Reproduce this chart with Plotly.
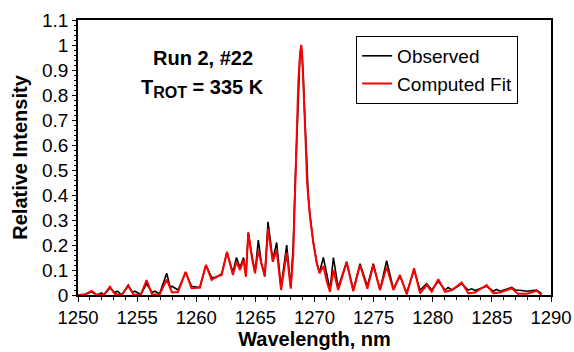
import plotly.graph_objects as go

# Observed spectrum (wavelength nm, relative intensity)
obs_wl = [1250.0, 1250.6, 1251.16, 1251.6, 1252.0, 1252.2, 1252.7, 1253.1, 1253.35, 1253.7,
          1254.25, 1254.6, 1254.8, 1255.3, 1255.8, 1256.26, 1256.5, 1256.9, 1257.5, 1257.8,
          1257.95, 1258.46, 1259.1, 1259.6, 1260.3, 1260.82, 1261.3, 1261.7, 1262.15, 1262.6,
          1263.1, 1263.4, 1263.7, 1264.0, 1264.2, 1264.4, 1264.7, 1264.97, 1265.25, 1265.5,
          1265.8, 1266.07, 1266.47, 1266.8, 1267.17, 1267.65, 1267.99, 1268.2, 1268.35, 1268.5,
          1268.63, 1268.77, 1268.88, 1268.97, 1269.05, 1269.14, 1269.26, 1269.37, 1269.48, 1269.62,
          1269.9, 1270.19, 1270.42, 1270.75, 1271.06, 1271.31, 1271.6, 1272.0, 1272.72, 1273.28,
          1273.85, 1274.47, 1274.97, 1275.54, 1276.1, 1276.67, 1277.23, 1277.8, 1278.42, 1278.92,
          1279.49, 1279.91, 1280.47, 1281.04, 1281.3, 1281.63, 1282.45, 1283.0, 1283.3, 1283.57,
          1284.56, 1285.12, 1285.4, 1285.69, 1286.68, 1287.0, 1287.5, 1287.97, 1288.79, 1289.2]
obs_int = [0.0, 0.003, 0.012, 0.0, 0.008, 0.0, 0.028, 0.01, 0.015, 0.0,
           0.04, 0.01, 0.015, 0.002, 0.045, 0.01, 0.015, 0.005, 0.087, 0.03,
           0.035, 0.02, 0.09, 0.035, 0.03, 0.12, 0.07, 0.07, 0.085, 0.17,
           0.09, 0.15, 0.11, 0.15, 0.08, 0.25, 0.16, 0.09, 0.22, 0.13,
           0.08, 0.293, 0.14, 0.21, 0.03, 0.2, 0.03, 0.2, 0.43, 0.62,
           0.85, 0.96, 1.0, 0.95, 0.88, 0.76, 0.6, 0.46, 0.39, 0.32,
           0.21, 0.13, 0.09, 0.15, 0.07, 0.02, 0.15, 0.03, 0.133, 0.02,
           0.125, 0.035, 0.125, 0.02, 0.137, 0.025, 0.075, 0.01, 0.1, 0.02,
           0.045, 0.02, 0.055, 0.02, 0.03, 0.02, 0.045, 0.02, 0.025, 0.018,
           0.035, 0.015, 0.022, 0.015, 0.03, 0.02, 0.018, 0.015, 0.02, 0.005]

# Computed fit
fit_wl = [1250.0, 1250.59, 1251.16, 1251.6, 1252.2, 1252.7, 1253.1, 1253.7, 1254.25, 1254.7,
          1255.3, 1255.8, 1256.26, 1256.9, 1257.5, 1257.95, 1258.46, 1259.1, 1259.6, 1260.3,
          1260.82, 1261.3, 1261.7, 1262.15, 1262.6, 1263.1, 1263.4, 1263.7, 1264.0, 1264.2,
          1264.4, 1264.7, 1264.97, 1265.25, 1265.5, 1265.8, 1266.07, 1266.47, 1266.8, 1267.17,
          1267.65, 1267.99, 1268.2, 1268.35, 1268.5, 1268.63, 1268.77, 1268.88, 1268.97, 1269.05,
          1269.14, 1269.26, 1269.37, 1269.48, 1269.62, 1269.9, 1270.19, 1270.42, 1270.75, 1271.06,
          1271.31, 1271.6, 1272.0, 1272.72, 1273.28, 1273.85, 1274.47, 1274.97, 1275.54, 1276.1,
          1276.67, 1277.23, 1277.8, 1278.42, 1278.92, 1279.49, 1279.91, 1280.47, 1281.04, 1281.63,
          1282.45, 1283.0, 1283.57, 1284.56, 1285.12, 1285.69, 1286.68, 1287.2, 1287.97, 1288.79,
          1289.2]
fit_int = [0.0, 0.002, 0.016, 0.0, 0.002, 0.033, 0.005, 0.0, 0.036, 0.002,
           0.0, 0.06, 0.003, 0.002, 0.062, 0.01, 0.012, 0.093, 0.027, 0.03,
           0.12, 0.06, 0.073, 0.08, 0.173, 0.08, 0.133, 0.1, 0.14, 0.073,
           0.25, 0.15, 0.087, 0.18, 0.127, 0.073, 0.265, 0.133, 0.18, 0.02,
           0.17, 0.025, 0.16, 0.42, 0.62, 0.85, 0.96, 1.0, 0.95, 0.87,
           0.75, 0.6, 0.45, 0.38, 0.31, 0.21, 0.127, 0.087, 0.115, 0.05,
           0.013, 0.1, 0.02, 0.13, 0.015, 0.12, 0.025, 0.12, 0.02, 0.113,
           0.02, 0.08, 0.002, 0.107, 0.007, 0.04, 0.013, 0.063, 0.013, 0.02,
           0.05, 0.007, 0.01, 0.04, 0.007, 0.01, 0.027, 0.005, 0.005, 0.017,
           0.0]

x_ticks = [1250, 1255, 1260, 1265, 1270, 1275, 1280, 1285, 1290]
y_ticks = [0, 0.1, 0.2, 0.3, 0.4, 0.5, 0.6, 0.7, 0.8, 0.9, 1.0, 1.1]
y_tick_text = ["0", "0.1", "0.2", "0.3", "0.4", "0.5", "0.6", "0.7", "0.8", "0.9", "1", "1.1"]

FONT = "Liberation Sans, Arial, sans-serif"

fig = go.Figure()
fig.add_trace(go.Scatter(x=obs_wl, y=obs_int, mode="lines", name="Observed",
                         line=dict(color="black", width=1.6)))
fig.add_trace(go.Scatter(x=fit_wl, y=fit_int, mode="lines", name="Computed Fit",
                         line=dict(color="#ff0000", width=2)))

fig.update_layout(
    width=574, height=352,
    margin=dict(l=78, r=23, t=20, b=57, autoexpand=False),
    paper_bgcolor="white", plot_bgcolor="white",
    font=dict(family=FONT, size=19, color="black"),
    showlegend=True,
    legend=dict(x=0.588, y=0.942, xanchor="left", yanchor="top",
                bordercolor="black", borderwidth=1, bgcolor="white",
                font=dict(size=19), itemwidth=30, tracegroupgap=0),
    xaxis=dict(range=[1250, 1290], tickvals=x_ticks, ticks="outside", ticklen=5,
               tickcolor="black", showline=True, linecolor="black", linewidth=1.5,
               mirror=True, showgrid=False, zeroline=False, automargin=False,
               tickfont=dict(size=18.5),
               minor=dict(dtick=1, ticks="outside", ticklen=3, tickcolor="black"),
               title=dict(text="<b>Wavelength, nm</b>", font=dict(size=20), standoff=4)),
    yaxis=dict(range=[0, 1.1], tickvals=y_ticks, ticktext=y_tick_text, ticks="outside",
               ticklen=4, tickcolor="black", showline=True, linecolor="black",
               linewidth=1.5, mirror=True, showgrid=False, zeroline=False, automargin=False,
               ticklabelstandoff=0,
               minor=dict(dtick=0.02, ticks="outside", ticklen=2, tickcolor="black"),
               title=dict(text="<b>Relative Intensity</b>", font=dict(size=20), standoff=9)),
)

fig.add_annotation(x=0.264, y=0.862, xref="paper", yref="paper", showarrow=False,
                   text="<b>Run 2, #22</b>", font=dict(size=20), xanchor="center",
                   yanchor="middle")
fig.add_annotation(x=0.264, y=0.75, xref="paper", yref="paper", showarrow=False,
                   text="<b>T<sub><span style='font-size:16px'>ROT</span></sub> = 335 K</b>",
                   font=dict(size=20), xanchor="center", yanchor="middle")

# remove the default 8px page margin so the 574x352 figure fills the window exactly
fig.write_html("out.html", config={"displayModeBar": False},
               post_script="document.body.style.margin='0';document.body.style.overflow='hidden';")
